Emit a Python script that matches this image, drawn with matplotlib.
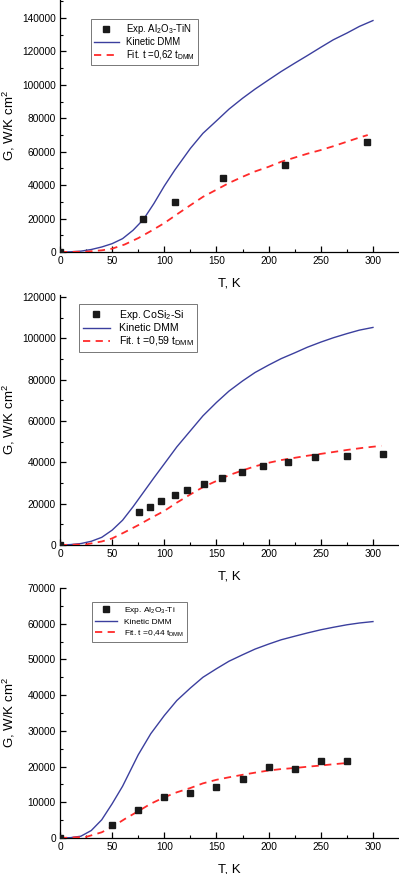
import matplotlib
matplotlib.use("Agg")
import matplotlib.pyplot as plt
from matplotlib.ticker import MultipleLocator

plt.rcParams['font.family'] = ['Liberation Sans', 'DejaVu Sans']
plt.rcParams['mathtext.fontset'] = 'custom'
plt.rcParams['mathtext.rm'] = 'Liberation Sans'
plt.rcParams['mathtext.it'] = 'Liberation Sans'
plt.rcParams['mathtext.default'] = 'regular'

# ---- Panel 1: Al2O3-TiN ----
exp1_T = [0, 80, 110, 156, 216, 294]
exp1_G = [0, 20000, 30000, 44000, 52000, 66000]
dmm1_T = [0, 10, 20, 30, 40, 50, 60, 70, 80, 90, 100, 110, 125, 137, 150, 162, 175, 187, 200,
          212, 225, 237, 250, 262, 275, 287, 300]
dmm1_G = [0, 100, 500, 1500, 3000, 5000, 8000, 13000, 19500, 29000, 39500, 49000, 62000, 71000,
          78500, 85500, 92000, 97500, 103000, 108000, 113000, 117500, 122500, 127000, 131000,
          135000, 138500]
fit1_T = [0, 25, 40, 50, 62, 75, 87, 100, 112, 125, 137, 150, 162, 175, 187, 200, 212, 225,
          237, 250, 262, 275, 287, 295]
fit1_G = [0, 200, 1000, 2000, 4500, 8300, 12500, 17300, 22500, 28000, 33000, 37300, 41300,
          45000, 48200, 51000, 54000, 56500, 58800, 61000, 63300, 66000, 68500, 70000]

# ---- Panel 2: CoSi2-Si ----
exp2_T = [0, 76, 86, 97, 110, 122, 138, 155, 174, 195, 219, 244, 275, 310]
exp2_G = [0, 16000, 18300, 21500, 24000, 26800, 29500, 32200, 35100, 38300, 40300, 42500, 43100, 44000]
dmm2_T = [0, 10, 20, 30, 40, 50, 60, 70, 80, 90, 100, 112, 125, 137, 150, 162, 175, 187, 200,
          212, 225, 237, 250, 262, 275, 287, 300]
dmm2_G = [0, 200, 700, 1800, 3700, 7200, 12000, 18500, 25500, 32500, 39300, 47500, 55300,
          62500, 69000, 74500, 79400, 83500, 87100, 90200, 93000, 95700, 98200, 100300,
          102300, 104000, 105300]
fit2_T = [0, 25, 40, 50, 62, 75, 87, 100, 112, 125, 137, 150, 162, 175, 187, 200, 212, 225,
          237, 250, 262, 275, 290, 308]
fit2_G = [0, 300, 1700, 3200, 6200, 9600, 13000, 16500, 20500, 24500, 28000, 31000, 33800,
          36100, 38100, 39800, 41100, 42200, 43200, 44100, 45000, 46000, 47000, 48000]

# ---- Panel 3: Al2O3-Ti ----
exp3_T = [0, 50, 75, 100, 125, 150, 175, 200, 225, 250, 275]
exp3_G = [0, 3700, 7900, 11400, 12700, 14200, 16400, 19900, 19400, 21600, 21600]
dmm3_T = [0, 10, 20, 30, 40, 50, 60, 75, 87, 100, 112, 125, 137, 150, 162, 175, 187, 200,
          212, 225, 237, 250, 262, 275, 287, 300]
dmm3_G = [0, 100, 500, 2100, 5100, 9600, 14500, 23300, 29200, 34300, 38500, 42000, 45000,
          47400, 49500, 51300, 52900, 54300, 55500, 56500, 57400, 58300, 59000, 59700, 60200, 60600]
fit3_T = [0, 25, 40, 50, 62, 75, 87, 100, 112, 125, 137, 150, 162, 175, 187, 200, 212, 225,
          237, 250, 262, 275]
fit3_G = [0, 300, 1600, 3100, 5300, 7500, 9600, 11400, 12800, 14000, 15300, 16300, 17000,
          17700, 18300, 18900, 19300, 19600, 19950, 20300, 20650, 21000]

labels_exp = ['Exp. Al$_2$O$_3$-TiN', 'Exp. CoSi$_2$-Si', 'Exp. Al$_2$O$_3$-Ti']
labels_fit = ['Fit. t =0,62 t$_{DMM}$', 'Fit. t =0,59 t$_{DMM}$', 'Fit. t =0,44 t$_{DMM}$']
ymax = [150800, 121000, 70000]
ymajor = [20000, 20000, 10000]

W, H = 399, 874
fig = plt.figure(figsize=(W / 100, H / 100), dpi=100)
# pixel boxes: (left, top, right, bottom)
boxes = [(60, 0, 398, 252), (60, 295, 398, 545), (60, 588, 398, 838)]
leg_boxes = [(91, 19, 195, 58), (79, 304, 195, 351), (92, 602, 186, 642)]
leg_fs = [6.9, 7.6, 6.0]
leg_hl = [2.6, 2.6, 2.6]
leg_sp = [0.12, 0.15, 0.25]
leg_bp = [0.3, 0.35, 0.4]

data = [
    (exp1_T, exp1_G, dmm1_T, dmm1_G, fit1_T, fit1_G),
    (exp2_T, exp2_G, dmm2_T, dmm2_G, fit2_T, fit2_G),
    (exp3_T, exp3_G, dmm3_T, dmm3_G, fit3_T, fit3_G),
]

blue = '#3b3f9e'
red = '#ff2a2a'

for i, (box, d) in enumerate(zip(boxes, data)):
    l, t, r, b = box
    ax = fig.add_axes([l / W, (H - b) / H, (r - l) / W, (b - t) / H])
    eT, eG, kT, kG, fT, fG = d
    ax.plot(eT, eG, 's', color='#1a1a1a', ms=5, label=labels_exp[i], zorder=4)
    ax.plot(kT, kG, '-', color=blue, lw=1.0, label='Kinetic DMM', zorder=3)
    ax.plot(fT, fG, '--', color=red, lw=1.3, dashes=(4, 3), label=labels_fit[i], zorder=3)
    ax.set_xlim(0, 324)
    ax.set_ylim(0, ymax[i])
    ax.xaxis.set_major_locator(MultipleLocator(50))
    ax.xaxis.set_minor_locator(MultipleLocator(25))
    ax.yaxis.set_major_locator(MultipleLocator(ymajor[i]))
    ax.yaxis.set_minor_locator(MultipleLocator(ymajor[i] / 2))
    for s in ['top', 'right']:
        ax.spines[s].set_visible(False)
    for s in ['left', 'bottom']:
        ax.spines[s].set_linewidth(0.9)
    ax.tick_params(which='major', direction='in', length=4, width=0.9, labelsize=7.3, pad=3)
    ax.tick_params(which='minor', direction='in', length=2.5, width=0.8)
    ax.set_xlabel('T, K', fontsize=9.5, labelpad=8)
    ax.set_ylabel('G, W/K cm$^2$', fontsize=9.5)
    ax.yaxis.set_label_coords(-0.128, 0.5)
    lb = leg_boxes[i]
    leg = ax.legend(loc='upper left',
                    bbox_to_anchor=((lb[0] - l) / (r - l), 1 - (lb[1] - t) / (b - t)),
                    fontsize=leg_fs[i], frameon=True, fancybox=False,
                    edgecolor='#555555', borderpad=leg_bp[i], labelspacing=leg_sp[i],
                    handlelength=leg_hl[i], handletextpad=0.8, borderaxespad=0)
    leg.get_frame().set_linewidth(0.7)

fig.savefig('out.png', dpi=100)
